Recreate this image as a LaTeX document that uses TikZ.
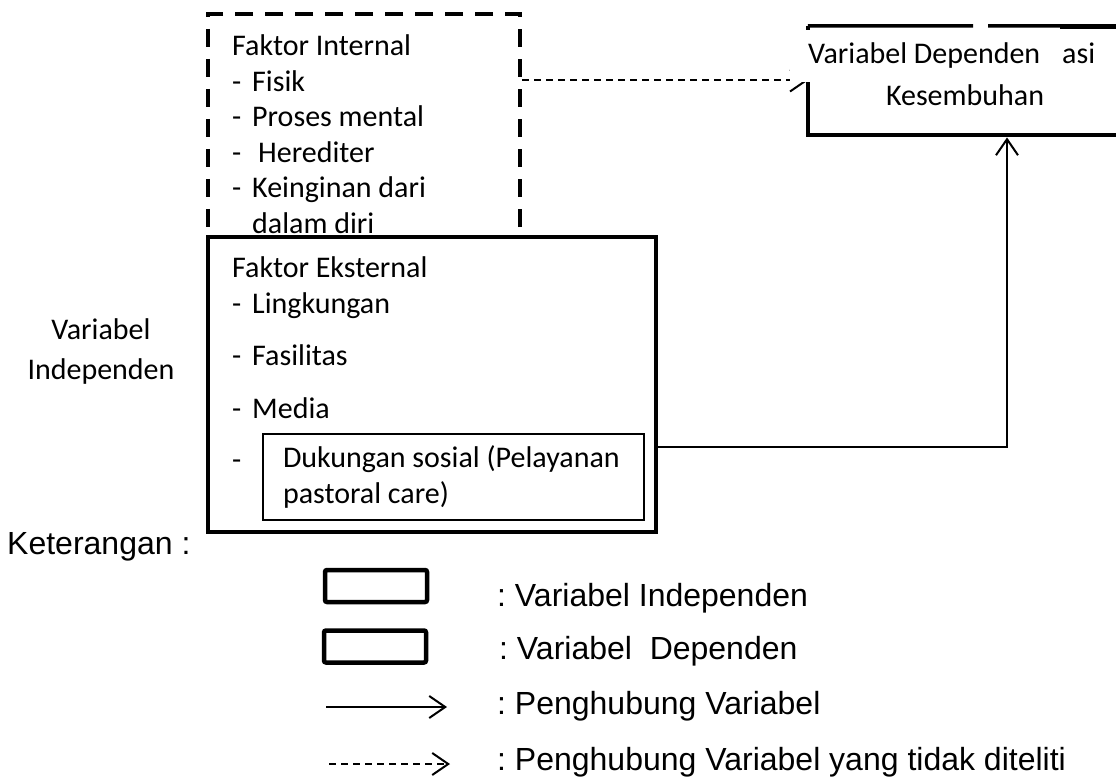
\documentclass[tikz,border=0pt]{standalone}
\usepackage{fontspec}
\setmainfont{Carlito}
\newfontfamily\legfont{Liberation Sans}
\usetikzlibrary{arrows.meta,positioning}
\newcommand{\dashitem}[1]{\makebox[20pt][l]{-}#1}
\frenchspacing

\begin{document}
\begin{tikzpicture}[
	x=1pt, y=-1pt,
	txt/.style={inner sep=0pt, align=flush left, font=\fontsize{30}{35.6}\selectfont},
	legtxt/.style={inner sep=0pt, anchor=west, font=\legfont\fontsize{32}{36}\selectfont},
	thickbox/.style={draw, line width=4.5pt, inner sep=0pt},
	dashbox/.style={thickbox, dash pattern=on 18pt off 12pt},
	legbox/.style={thickbox, rounded corners=2pt, minimum width=102pt, minimum height=32pt},
	arrow/.style={-{Straight Barb[length=16pt,width=22pt]}, line width=2pt},
	dasharrow/.style={arrow, dash pattern=on 7pt off 5pt}
	]
	\useasboundingbox (0,0) rectangle (1116,778);
	% faktor internal
	\node[dashbox, minimum width=312pt, minimum height=231pt] (internal) at (364,129.5) {};
	\node[txt, anchor=north west] (inttext) at (232,34.5) {Faktor Internal\\
		\dashitem{Fisik}\\
		\dashitem{Proses mental}\\
		\dashitem{\hspace{6pt}Herediter}\\
		\dashitem{Keinginan dari}\\
		\hspace*{20pt}dalam diri};
	% faktor eksternal
	\node[thickbox, fill=white, minimum width=448pt, minimum height=295pt] (ext) at (432,384.5) {};
	\node[txt, anchor=north west] (exttext) at (232,256.5) {Faktor Eksternal\\
		\dashitem{Lingkungan}\\[16.4pt]
		\dashitem{Fasilitas}\\[17.4pt]
		\dashitem{Media}};
	\node[txt, anchor=base west] (dukdash) at (232,469) {-};
	\node[draw, line width=1.2pt, txt, minimum width=381pt, minimum height=86pt, text width=341pt, inner xsep=20pt] (duk) at (453.5,477) {Dukungan sosial (Pelayanan\\pastoral care)};
	\node[txt, align=center, font=\fontsize{30}{40}\selectfont] (indlabel) at (101,352) {Variabel\\Independen};
	% variabel dependen (kotak terpotong di tepi kanan)
	\node[inner sep=0pt, minimum width=398pt, minimum height=109pt] (dep) at (1007,80.5) {};
	\path (1116,0) coordinate (rightedge);
	\draw[line width=4.5pt] (dep.north west) -- (dep.south west) -- (dep.south west -| rightedge);
	\draw[line width=3.5pt] (dep.north west) -- (973,26) (988,26) -- (1060,26);
	\draw[line width=5pt] (1060,27) -- (rightedge |- 0,27);
	\path (0,447) coordinate (linklevel);
	\draw[dasharrow] (internal.east |- dep.west) -- (dep.west);
	\draw[arrow] (ext.east |- linklevel) -| ([yshift=-2.25pt]dep.south);
	\node[inner sep=0pt, inner xsep=18pt, font=\fontsize{30}{35.6}\selectfont, fill=white, anchor=west, minimum height=52pt] (deptitle) at (790,56) {Variabel Dependen\hspace{22pt}asi};
	\node[txt] (depsub) at (965,95) {Kesembuhan};
	% keterangan
	\node[legtxt] (keterangan) at (7,547) {Keterangan :};
	\node[legbox] (legind) at (376,586) {};
	\node[legbox] (legdep) at (375,646.5) {};
	\path (326,707) coordinate (legsolida) (447,707) coordinate (legsolidb);
	\path (329,764) coordinate (legdasha) (450,764) coordinate (legdashb);
	\draw[arrow] (legsolida) -- (legsolidb);
	\draw[dasharrow] (legdasha) -- (legdashb);
	\node[legtxt] (legindtxt) at (497,598) {: Variabel Independen};
	\node[legtxt] (legdeptxt) at (499,651) {: Variabel\ \ Dependen};
	\node[legtxt] (legsolidtxt) at (497,706) {: Penghubung Variabel};
	\node[legtxt] (legdashtxt) at (497,762) {: Penghubung Variabel yang tidak diteliti};
\end{tikzpicture}
\end{document}
